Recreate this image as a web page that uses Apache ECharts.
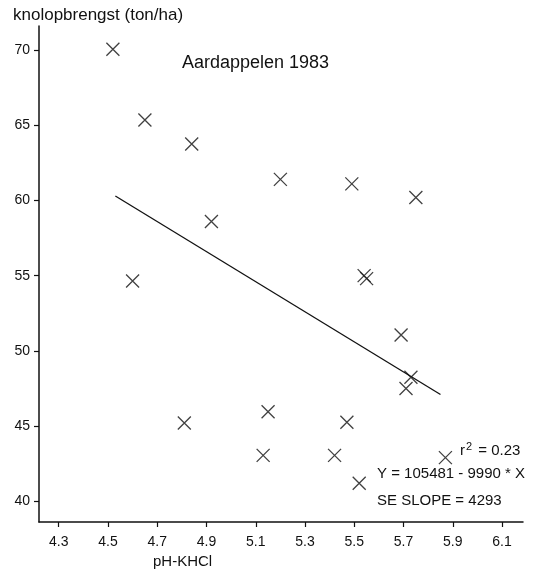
<!DOCTYPE html>
<html>
<head>
<meta charset="utf-8">
<title>Aardappelen 1983</title>
<script src="https://cdn.jsdelivr.net/npm/echarts@6/dist/echarts.min.js"></script>
<style>
  html, body { margin: 0; padding: 0; background: #fff; }
  #chart { width: 544px; height: 573px; }
</style>
</head>
<body>
<div id="chart"></div>
<script>
// meetpunten: pH-KHCl tegen knolopbrengst (ton/ha)
const phValues = [4.52, 4.65, 4.84, 5.20, 5.49, 5.75, 4.92, 4.60, 5.54, 5.55,
  5.69, 5.73, 5.71, 5.15, 4.81, 5.47, 5.13, 5.42, 5.87, 5.52]
const yieldValues = [70.05, 65.35, 63.75, 61.4, 61.1, 60.2, 58.6, 54.65, 55.0, 54.8,
  51.05, 48.25, 47.5, 45.95, 45.2, 45.25, 43.05, 43.05, 42.9, 41.2]

const fitPh = [4.53, 5.85]
const fitYield = [60.3, 47.1]

// as-labels
const xTicks = [4.3, 4.5, 4.7, 4.9, 5.1, 5.3, 5.5, 5.7, 5.9, 6.1]
const yTicks = [40, 45, 50, 55, 60, 65, 70]

const font = 'Liberation Sans, Arial, Helvetica, sans-serif'
const ink = '#111'

const chart = echarts.init(document.getElementById('chart'))

const textTitle = (text, left, top, size, extra) => ({
  text: text,
  left: left,
  top: top,
  padding: 0,
  textStyle: Object.assign({
    fontFamily: font,
    fontSize: size,
    fontWeight: 'normal',
    color: ink
  }, extra || {})
})

chart.setOption({
  animation: false,
  backgroundColor: '#fff',
  title: [
    textTitle('knolopbrengst (ton/ha)', 13, 7, 17),
    textTitle('Aardappelen 1983', 182, 54, 18),
    textTitle('pH-KHCl', 153, 554, 15),
    textTitle('r{sup|2} = 0.23', 460, 441, 15, {
      rich: {
        sup: { fontFamily: font, fontSize: 11, color: ink, verticalAlign: 'top', padding: [0, 2, 8, 1] }
      }
    }),
    textTitle('Y = 105481 - 9990 * X', 377, 466, 15),
    textTitle('SE SLOPE = 4293', 377, 493, 15)
  ],
  grid: {
    left: 39,
    right: 21,
    top: 26,
    bottom: 51
  },
  xAxis: {
    type: 'value',
    min: 4.22,
    max: 6.185,
    splitLine: { show: false },
    axisLine: { show: true, lineStyle: { color: ink, width: 1.5 } },
    axisTick: {
      show: true,
      customValues: xTicks,
      length: 5,
      lineStyle: { color: ink, width: 1.2 }
    },
    axisLabel: {
      customValues: xTicks,
      margin: 13,
      fontFamily: font,
      fontSize: 14,
      color: ink,
      formatter: v => v.toFixed(1)
    }
  },
  yAxis: {
    type: 'value',
    min: 38.62,
    max: 71.6,
    splitLine: { show: false },
    axisLine: { show: true, lineStyle: { color: ink, width: 1.5 } },
    axisTick: {
      show: true,
      customValues: yTicks,
      length: 5,
      lineStyle: { color: ink, width: 1.2 }
    },
    axisLabel: {
      customValues: yTicks,
      margin: 9,
      fontFamily: font,
      fontSize: 14,
      color: ink
    }
  },
  series: [
    {
      type: 'scatter',
      symbol: 'path://M0,0L10,10M10,0L0,10',
      symbolSize: 13,
      itemStyle: {
        color: 'none',
        borderColor: ink,
        borderWidth: 1.3
      },
      data: phValues.map((x, i) => [x, yieldValues[i]])
    },
    {
      type: 'line',
      symbol: 'none',
      lineStyle: { color: ink, width: 1.3 },
      data: fitPh.map((x, i) => [x, fitYield[i]])
    }
  ]
})
</script>
</body>
</html>
